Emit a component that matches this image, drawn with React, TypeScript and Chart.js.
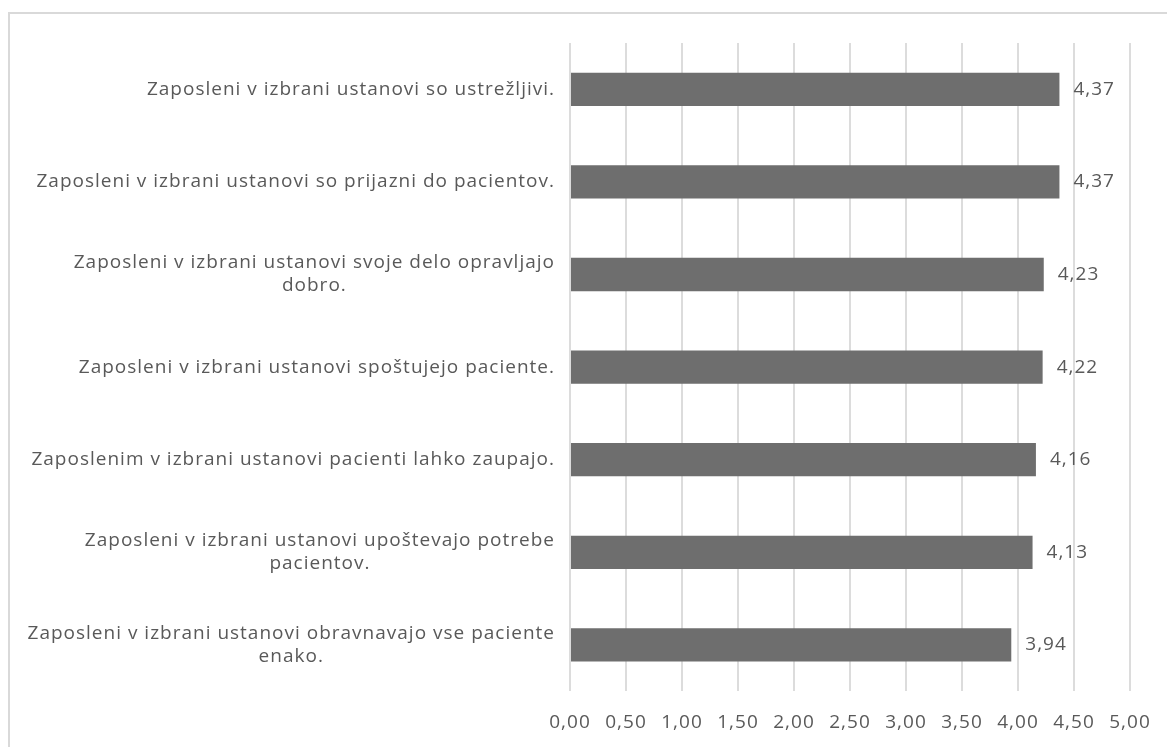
import React, { useEffect, useRef } from "react";
import { Chart, registerables } from "chart.js";

Chart.register(...registerables);

// Statements, top to bottom; multi-line entries wrap like the axis labels
const statements: (string | string[])[] = [
  "Zaposleni v izbrani ustanovi so ustrežljivi.",
  "Zaposleni v izbrani ustanovi so prijazni do pacientov.",
  ["Zaposleni v izbrani ustanovi svoje delo opravljajo", "dobro."],
  "Zaposleni v izbrani ustanovi spoštujejo paciente.",
  "Zaposlenim v izbrani ustanovi pacienti lahko zaupajo.",
  ["Zaposleni v izbrani ustanovi upoštevajo potrebe", "pacientov."],
  ["Zaposleni v izbrani ustanovi obravnavajo vse paciente", "enako."],
];

// Mean agreement score per statement
const meanScores: number[] = [4.37, 4.37, 4.23, 4.22, 4.16, 4.13, 3.94];

// Value axis range and step
const axisMin = 0;
const axisMax = 5;
const axisStep = 0.5;

const FONT = "'Open Sans', 'Noto Sans', sans-serif";
const FONT_SIZE = 19;
const LETTER_SPACING = "1px";
const TEXT_COLOR = "#595959";
const BAR_COLOR = "#6e6e6e";
const GRID_COLOR = "#dcdcdc";

const fmt = (v: number) => v.toFixed(2).replace(".", ",");

// Slightly open tracking for every text drawn on the canvas
const spacingPlugin = {
  id: "letterSpacing",
  beforeInit(chart: any) {
    (chart.ctx as any).letterSpacing = LETTER_SPACING;
  },
  beforeDraw(chart: any) {
    (chart.ctx as any).letterSpacing = LETTER_SPACING;
  },
};

// Draws the statement labels (block right-aligned, lines centred) and value labels
const labelsPlugin = {
  id: "statementLabels",
  afterDraw(chart: any) {
    const ctx = chart.ctx as CanvasRenderingContext2D;
    const yScale = chart.scales.y;
    const xScale = chart.scales.x;
    const area = chart.chartArea;
    ctx.save();
    (ctx as any).letterSpacing = LETTER_SPACING;
    ctx.fillStyle = TEXT_COLOR;
    ctx.font = `${FONT_SIZE}px ${FONT}`;
    ctx.textBaseline = "middle";
    const lineHeight = 23;
    const rightEdge = area.left - 15;
    statements.forEach((label, i) => {
      const lines = Array.isArray(label) ? label : [label];
      const y = yScale.getPixelForTick(i);
      const maxW = Math.max(...lines.map((l) => ctx.measureText(l).width));
      const cx = rightEdge - maxW / 2;
      ctx.textAlign = "center";
      const y0 = y - ((lines.length - 1) * lineHeight) / 2;
      lines.forEach((l, k) => ctx.fillText(l, cx, y0 + k * lineHeight));
    });
    // value labels to the right of each bar
    const meta = chart.getDatasetMeta(0);
    ctx.textAlign = "left";
    meta.data.forEach((bar: any, i: number) => {
      const x = xScale.getPixelForValue(meanScores[i]);
      ctx.fillText(fmt(meanScores[i]), x + 14, bar.y);
    });
    ctx.restore();
  },
};

export default function App() {
  const canvasRef = useRef<HTMLCanvasElement | null>(null);

  useEffect(() => {
    if (!canvasRef.current) return;
    const chart = new Chart(canvasRef.current, {
      type: "bar",
      data: {
        labels: statements.map((s) => (Array.isArray(s) ? s.join(" ") : s)),
        datasets: [
          {
            data: meanScores,
            backgroundColor: BAR_COLOR,
            borderWidth: 0,
            categoryPercentage: 1,
            barPercentage: 0.36,
          },
        ],
      },
      options: {
        indexAxis: "y",
        animation: false,
        responsive: true,
        maintainAspectRatio: false,
        layout: { padding: { left: 562, right: 37, top: 43, bottom: -7 } },
        plugins: {
          legend: { display: false },
          tooltip: { enabled: false },
        },
        scales: {
          x: {
            min: axisMin,
            max: axisMax,
            ticks: {
              stepSize: axisStep,
              callback: (v: any) => fmt(Number(v)),
              color: TEXT_COLOR,
              font: { family: FONT, size: FONT_SIZE },
              padding: 20,
              maxRotation: 0,
              autoSkip: false,
            },
            // the layout padding already leaves room for the end labels
            afterFit: (scale: any) => {
              scale.paddingLeft = 0;
              scale.paddingRight = 0;
            },
            grid: { color: GRID_COLOR, lineWidth: 2, drawTicks: false },
            border: { display: false },
          },
          y: {
            ticks: { display: false },
            grid: { display: false },
            border: { display: false },
          },
        },
      },
      plugins: [spacingPlugin, labelsPlugin],
    });
    return () => chart.destroy();
  }, []);

  return (
    <div style={{ position: "fixed", left: 0, top: 0, width: 1167, height: 747, background: "#fff", overflow: "hidden" }}>
      <div
        style={{
          position: "absolute",
          left: 8,
          top: 12,
          width: 1300,
          height: 900,
          borderLeft: "2px solid #d9d9d9",
          borderTop: "2px solid #d9d9d9",
        }}
      />
      <div style={{ position: "absolute", left: 0, top: 0, width: 1167, height: 747 }}>
        <canvas ref={canvasRef} />
      </div>
    </div>
  );
}
